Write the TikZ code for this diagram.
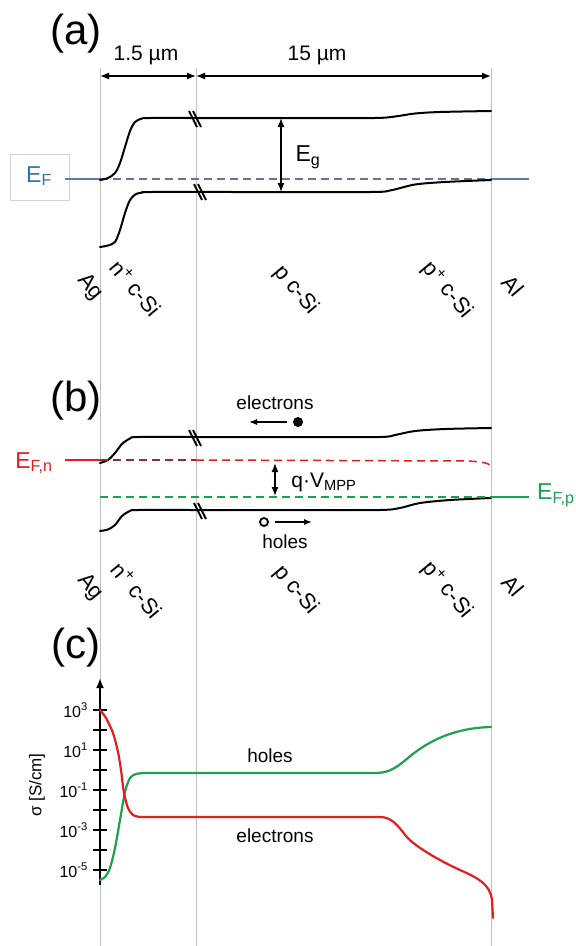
\documentclass[tikz,border=0pt]{standalone}
\usepackage{fontspec}
\setmainfont{Liberation Sans}
\usetikzlibrary{arrows.meta}
\definecolor{vgray}{RGB}{192,192,192}
\definecolor{efblue}{RGB}{46,117,182}
\definecolor{eflineblue}{RGB}{79,129,174}
\definecolor{efdash}{RGB}{100,116,146}
\definecolor{myred}{RGB}{226,30,30}
\definecolor{mydarkred}{RGB}{150,45,45}
\definecolor{mygreen}{RGB}{30,160,80}
\definecolor{boxgray}{RGB}{210,210,210}
\begin{document}
\begin{tikzpicture}[x=1pt,y=-1pt,
  band/.style={line width=2pt,black,line join=round,line cap=round},
  vline/.style={vgray,line width=1pt},
  dimarrow/.style={line width=1.3pt,{Latex[length=9pt,width=7pt]}-{Latex[length=9pt,width=7pt]}},
  onearrow/.style={line width=1.3pt,-{Latex[length=8pt,width=6pt]}},
  lab/.style={font=\fontsize{19}{22}\selectfont,inner sep=0pt},
  rlab/.style={font=\fontsize{22}{26}\selectfont,rotate=-50,inner sep=0pt},
  panel/.style={font=\fontsize{42}{48}\selectfont,inner sep=0pt},
  big/.style={font=\fontsize{23}{27}\selectfont,inner sep=0pt},
  ticklab/.style={font=\fontsize{16}{19}\selectfont,inner sep=0pt,anchor=base east},
  brk/.style={line width=1.8pt},
  efsolid/.style={line width=2.5pt},
  efdashed/.style={line width=1.5pt,dash pattern=on 8pt off 5pt},
  curve/.style={line width=2.2pt,line cap=round,line join=round}
]
\useasboundingbox (0,0) rectangle (576,946);
\fill[white] (0,0) rectangle (576,946);

% vertical separators
\coordinate (L1t) at (100,68); \coordinate (L1b) at (100,946);
\coordinate (L2t) at (196,68); \coordinate (L2b) at (196,946);
\coordinate (L3t) at (491,68); \coordinate (L3b) at (491,946);
\draw[vline] (L1t) -- (L1b);
\draw[vline] (L2t) -- (L2b);
\draw[vline] (L3t) -- (L3b);

% ---------------- (a) ----------------
\node[panel] (pa) at (76,34) {(a)};
\coordinate (d1) at (100,76); \coordinate (d2) at (196,76); \coordinate (d3) at (491,76);
\draw[dimarrow] (d1) -- (d2);
\draw[dimarrow] (d2) -- (d3);
\node[font=\fontsize{21}{25}\selectfont,inner sep=0pt] (w1) at (146,55) {1.5 µm};
\node[font=\fontsize{21}{25}\selectfont,inner sep=0pt] (w2) at (317,55) {15 µm};

% Fermi level (a)
\node[draw=boxgray,line width=0.8pt,minimum width=59pt,minimum height=46pt,inner sep=0pt] (efbox) at (39.5,177) {};
\node[big,text=efblue] (ef) at (39,176) {E\textsubscript{F}};
\coordinate (efl) at (65,179); \coordinate (efa) at (100,179);
\coordinate (efb) at (491,179); \coordinate (efr) at (529,179);
\draw[eflineblue,efsolid] (efl) -- (efa);
\draw[efdash,efdashed] (efa) -- (efb);
\draw[eflineblue,efsolid] (efb) -- (efr);

% bands (a)
\draw[band] plot[smooth,tension=0.5] coordinates {(100,180) (108,178) (115,173) (120,163) (125,147) (130,131) (135,122) (142,118.5) (150,118) (200,118) (300,118) (375,118) (395,116.5) (415,113.5) (440,112) (491,111)};
\draw[band] plot[smooth,tension=0.5] coordinates {(100,247) (108,245.5) (115,242) (120,230) (125,213) (130,200) (136,194) (143,192.5) (150,192) (250,192) (370,192) (390,190.5) (415,184.5) (445,182) (491,180)};
\draw[brk] (189,111) -- (197,127); \draw[brk] (193,111) -- (201,127);
\draw[brk] (194,184) -- (202,200); \draw[brk] (198,184) -- (206,200);

\coordinate (ega) at (281,118); \coordinate (egb) at (281,192);
\draw[dimarrow] (ega) -- (egb);
\node[big] (eg) at (308,157) {E\textsubscript{g}};

% region labels (a)
\node[rlab] (ag1) at (90,287) {Ag};
\node[rlab] (ns1) at (136,288) {n\textsuperscript{+} c-Si};
\node[rlab] (ps1) at (296,290) {p c-Si};
\node[rlab] (pp1) at (447,290) {p\textsuperscript{+} c-Si};
\node[rlab] (al1) at (513,286) {Al};

% ---------------- (b) ----------------
\node[panel] (pb) at (76,401) {(b)};

\draw[band] plot[smooth,tension=0.5] coordinates {(100,463) (108,460) (115,453) (122,444) (130,438.5) (138,437) (200,437) (300,437) (380,437) (395,435) (415,431) (445,429) (491,428)};
\draw[band] plot[smooth,tension=0.5] coordinates {(100,531) (108,529.5) (115,525) (122,516) (130,511) (138,510) (200,510) (300,510) (380,510) (400,508) (420,503) (450,500) (491,498)};
\draw[brk] (189,430) -- (197,446); \draw[brk] (193,430) -- (201,446);
\draw[brk] (194,503) -- (202,519); \draw[brk] (198,503) -- (206,519);

% quasi Fermi levels
\node[big,text=myred] (efn) at (34,463) {E\textsubscript{F,n}};
\coordinate (enl) at (65,460); \coordinate (ena) at (100,460);
\coordinate (enm) at (196,460); \coordinate (enr) at (491,468);
\draw[myred,efsolid] (enl) -- (ena);
\draw[mydarkred,efdashed] (ena) -- (enm);
\draw[myred,efdashed] (enm) -- (468,461) .. controls (484,462) and (491,463) .. (enr);

\coordinate (epa) at (100,497); \coordinate (epb) at (491,497); \coordinate (epr) at (529,497);
\draw[mygreen,efdashed] (epa) -- (epb);
\draw[mygreen,efsolid] (epb) -- (epr);
\node[big,text=mygreen,anchor=west] (efp) at (537,495) {E\textsubscript{F,p}};

\coordinate (qa) at (275,463); \coordinate (qb) at (275,496);
\draw[dimarrow] (qa) -- (qb);
\node[font=\fontsize{21}{25}\selectfont,inner sep=0pt] (qv) at (324,482) {q·V\textsubscript{MPP}};

% carriers
\node[lab] (elab) at (275,403) {electrons};
\node[circle,fill=black,minimum size=10pt,inner sep=0pt] (edot) at (298,422) {};
\coordinate (eend) at (249,422);
\draw[onearrow] (edot.west) ++(-6,0) -- (eend);
\node[circle,draw=black,line width=1.8pt,minimum size=8pt,inner sep=0pt] (hdot) at (264,522) {};
\coordinate (hend) at (312,522);
\draw[onearrow] (hdot.east) ++(6,0) -- (hend);
\node[lab] (hlab) at (285,542) {holes};

% region labels (b)
\node[rlab] (ag2) at (90,587) {Ag};
\node[rlab] (ns2) at (137,590) {n\textsuperscript{+} c-Si};
\node[rlab] (ps2) at (296,590) {p c-Si};
\node[rlab] (pp2) at (447,590) {p\textsuperscript{+} c-Si};
\node[rlab] (al2) at (513,586) {Al};

% ---------------- (c) ----------------
\node[panel] (pc) at (76,648) {(c)};
\coordinate (axb) at (100,885); \coordinate (axt) at (100,678);
\draw[line width=2pt,-{Latex[length=10pt,width=8pt]}] (axb) -- (axt);
\foreach \i in {0,...,8} {
  \draw[line width=1.6pt] (93,710+20*\i) -- (107,710+20*\i);
}
\node[ticklab] (t3) at (88,717) {10\textsuperscript{3}};
\node[ticklab] (t1) at (88,757) {10\textsuperscript{1}};
\node[ticklab] (tm1) at (88,797) {10\textsuperscript{-1}};
\node[ticklab] (tm3) at (88,837) {10\textsuperscript{-3}};
\node[ticklab] (tm5) at (88,877) {10\textsuperscript{-5}};
\node[font=\fontsize{17}{20}\selectfont,rotate=90,inner sep=0pt] (sig) at (37,785) {σ [S/cm]};

\draw[mygreen,curve] plot[smooth,tension=0.5] coordinates {(100,880) (105,877) (110,868) (115,848) (120,820) (125,792) (130,778) (136,774) (145,773)}
  -- (375,773) .. controls (390,773) and (397,767) .. (408,758)
  .. controls (422,746) and (448,728) .. (491,727);
\draw[myred,curve] plot[smooth,tension=0.5] coordinates {(100,710) (106,718) (113,733) (118,752) (121,770) (124,793) (128,808) (133,815) (140,817)}
  -- (380,817) .. controls (392,817) and (398,826) .. (406,836)
  .. controls (414,846) and (440,861) .. (460,870)
  .. controls (478,878) and (490,884) .. (492,900) -- (493,918);

\node[lab] (hl) at (270,756) {holes};
\node[lab] (el) at (275,836) {electrons};
\end{tikzpicture}
\end{document}
